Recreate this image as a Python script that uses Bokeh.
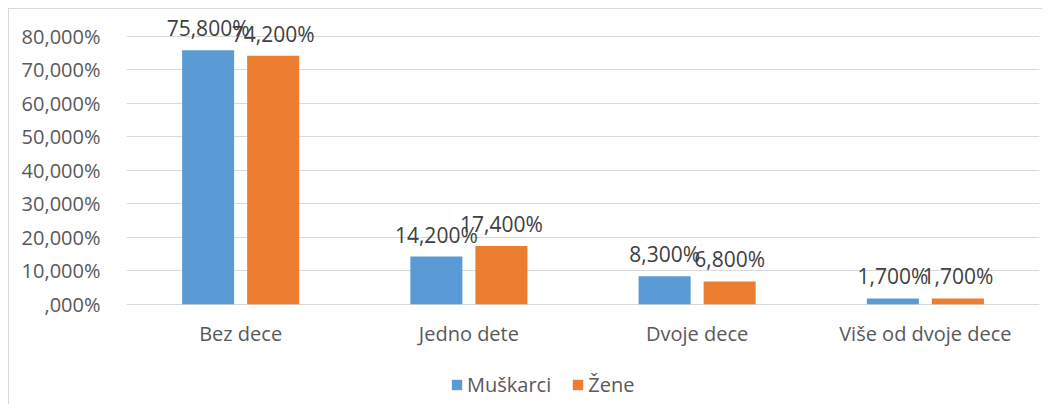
from bokeh.plotting import figure
from bokeh.models import (ColumnDataSource, LabelSet, Legend, LegendItem, FixedTicker,
                          FactorRange, Range1d, InlineStyleSheet)
from bokeh.transform import dodge
from bokeh.core.properties import value
from bokeh.embed import file_html
from bokeh.resources import INLINE

categories = ["Bez dece", "Jedno dete", "Dvoje dece", "Više od dvoje dece"]
muskarci = [75.8, 14.2, 8.3, 1.7]
zene = [74.2, 17.4, 6.8, 1.7]
series_names = ["Muškarci", "Žene"]
y_ticks = [0, 10, 20, 30, 40, 50, 60, 70, 80]
y_tick_labels = [",000%", "10,000%", "20,000%", "30,000%", "40,000%",
                 "50,000%", "60,000%", "70,000%", "80,000%"]

BLUE = "#5B9BD5"
ORANGE = "#ED7D31"
FONT = "Open Sans"
TXT = "#595959"


def fmt(v):
    return f"{v:.3f}".replace(".", ",") + "%"


src = ColumnDataSource(dict(
    cat=categories,
    zero=[0] * len(categories),
    m=muskarci,
    z=zene,
    m_lab=[fmt(v) for v in muskarci],
    z_lab=[fmt(v) for v in zene],
))

p = figure(
    width=1034, height=396,
    x_range=FactorRange(*categories, range_padding=0),
    y_range=Range1d(-30.26, 85.9),
    x_axis_location=None,
    output_backend="svg", toolbar_location=None,
    min_border_left=117, min_border_right=4, min_border_top=7, min_border_bottom=0,
)
p.stylesheets = [InlineStyleSheet(css=":host { margin-left: 8px; margin-top: 8px; border-left: 1px solid #D9D9D9; border-top: 1px solid #D9D9D9; }")]
p.outline_line_color = None
p.background_fill_color = "white"

off = 0.1425
bw = 0.228
r_m = p.vbar(x=dodge("cat", -off, range=p.x_range), top="m", width=bw, source=src,
             fill_color=BLUE, line_color=None)
r_z = p.vbar(x=dodge("cat", off, range=p.x_range), top="z", width=bw, source=src,
             fill_color=ORANGE, line_color=None)

for col, lab, o in (("m", "m_lab", -off), ("z", "z_lab", off)):
    ls = LabelSet(x=dodge("cat", o, range=p.x_range), y=col, text=lab, source=src,
                  text_align="center", text_baseline="middle", y_offset=22,
                  text_font=value(FONT), text_font_size="21px", text_color="#404040")
    p.add_layout(ls)

# category labels under the bars
cat_labels = LabelSet(x="cat", y="zero", text="cat", source=src,
                      text_align="center", text_baseline="middle", y_offset=-29,
                      text_font=value(FONT), text_font_size="20px", text_color=TXT)
p.add_layout(cat_labels)

p.yaxis.ticker = FixedTicker(ticks=y_ticks)
p.yaxis.major_label_overrides = {t: l for t, l in zip(y_ticks, y_tick_labels)}
p.yaxis.axis_line_color = None
p.yaxis.major_tick_line_color = None
p.yaxis.minor_tick_line_color = None
p.yaxis.major_label_standoff = 20
p.yaxis.major_label_text_font = FONT
p.yaxis.major_label_text_font_size = "20px"
p.yaxis.major_label_text_color = TXT

p.xgrid.grid_line_color = None
p.ygrid.grid_line_color = "#D9D9D9"
p.ygrid.grid_line_width = 1

legend = Legend(items=[LegendItem(label=series_names[0], renderers=[r_m]),
                       LegendItem(label=series_names[1], renderers=[r_z])],
                orientation="horizontal", location=(324, 7),
                border_line_color=None, background_fill_alpha=0,
                label_text_font=FONT, label_text_font_size="20px", label_text_color=TXT,
                glyph_width=13, glyph_height=13, label_standoff=4, spacing=20,
                margin=0, padding=0)
p.add_layout(legend, "center")

open("out.html", "w").write(file_html(p, INLINE))
